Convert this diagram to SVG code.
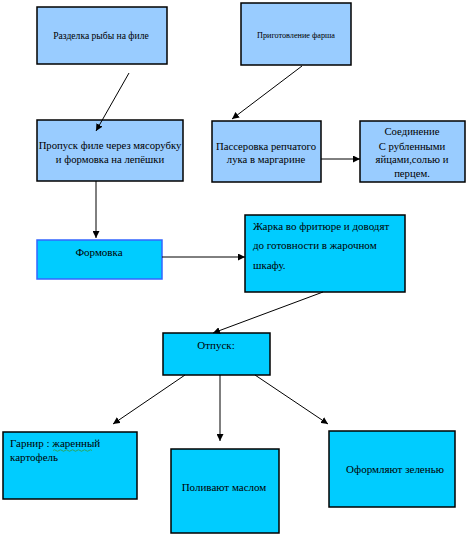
<svg xmlns="http://www.w3.org/2000/svg" width="476" height="538" viewBox="0 0 476 538">
<defs>
<marker id="ah" viewBox="0 0 10 10" refX="10" refY="5" markerWidth="7" markerHeight="7" markerUnits="userSpaceOnUse" orient="auto"><path d="M0,0 L10,5 L0,10 z" fill="#000"/></marker>
<style>
.lt{fill:#99CCFF;stroke:#000;stroke-width:1.5}
.dk{fill:#00CCFF;stroke:#000;stroke-width:1.5}
text{font-family:"Liberation Serif","Times New Roman",serif;font-size:11px;fill:#000}
.c{text-anchor:middle}
.m{font-size:10.7px}
.s1{font-size:9.6px}
.s2{font-size:8px}
.con line{stroke:#000;stroke-width:1;marker-end:url(#ah)}
</style>
</defs>
<rect width="476" height="538" fill="#fff"/>
<g id="n1"><rect class="lt" x="37" y="7" width="130" height="57"/><text class="c s1" x="101" y="39">Разделка рыбы  на филе</text></g>
<g id="n2"><rect class="lt" x="241" y="3" width="110" height="62"/><text class="s2" x="257" y="38" textLength="78" lengthAdjust="spacingAndGlyphs">Приготовление фарша</text></g>
<g id="n3"><rect class="lt" x="37" y="120" width="146" height="61"/><text class="c m" x="110" y="149">Пропуск филе через мясорубку</text><text class="c m" x="110" y="163">и формовка на лепёшки</text></g>
<g id="n4"><rect class="lt" x="212" y="121" width="109" height="61"/><text class="c m" x="266" y="150">Пассеровка репчатого</text><text class="c m" x="266" y="163">лука в  маргарине</text></g>
<g id="n5"><rect class="lt" x="360" y="121" width="105" height="61"/><text class="c m" x="412" y="135">Соединение</text><text class="c m" x="412" y="150">С  рубленными</text><text class="c m" x="412" y="163">яйцами,солью и</text><text class="c m" x="412" y="177">перцем.</text></g>
<g id="n6"><rect x="37" y="240" width="125" height="39" fill="#00CCFF" stroke="#3366FF" stroke-width="1.5"/><text class="c" x="99" y="256">Формовка</text></g>
<g id="n7"><rect class="dk" x="245" y="215" width="160" height="77"/><text x="253" y="230">Жарка во фритюре и доводят</text><text x="253" y="249">до готовности в жарочном</text><text x="253" y="269">шкафу.</text></g>
<g id="n8"><rect class="dk" x="163" y="333" width="107" height="42"/><text class="c" x="216" y="349">Отпуск:</text></g>
<g id="n9"><rect class="dk" x="3" y="432" width="134" height="67"/><text x="10" y="447">Гарнир : жаренный</text><path d="M53,450.5 q1.5,-1.5 3,0 t3,0 t3,0 t3,0 t3,0 t3,0 t3,0 t3,0 t3,0 t3,0 t3,0 t3,0 t3,0" fill="none" stroke="#3a9a3a" stroke-width="0.8"/><text x="10" y="461">картофель</text></g>
<g id="n10"><rect class="dk" x="171" y="449" width="108" height="84"/><text class="c" x="224" y="491">Поливают маслом</text></g>
<g id="n11"><rect class="dk" x="329" y="431" width="126" height="76"/><text class="c" x="395" y="473">Оформляют зеленью</text></g>
<g id="connectors" class="con">
<line x1="129" y1="73" x2="96" y2="131"/>
<line x1="302" y1="66" x2="232" y2="119"/>
<line x1="321" y1="159" x2="360" y2="159"/>
<line x1="96" y1="181" x2="96" y2="238"/>
<line x1="162" y1="257" x2="245" y2="257"/>
<line x1="323" y1="292" x2="213" y2="333"/>
<line x1="185" y1="375" x2="113" y2="424"/>
<line x1="220" y1="375" x2="220" y2="441"/>
<line x1="255" y1="375" x2="328" y2="424"/>
</g>
</svg>
